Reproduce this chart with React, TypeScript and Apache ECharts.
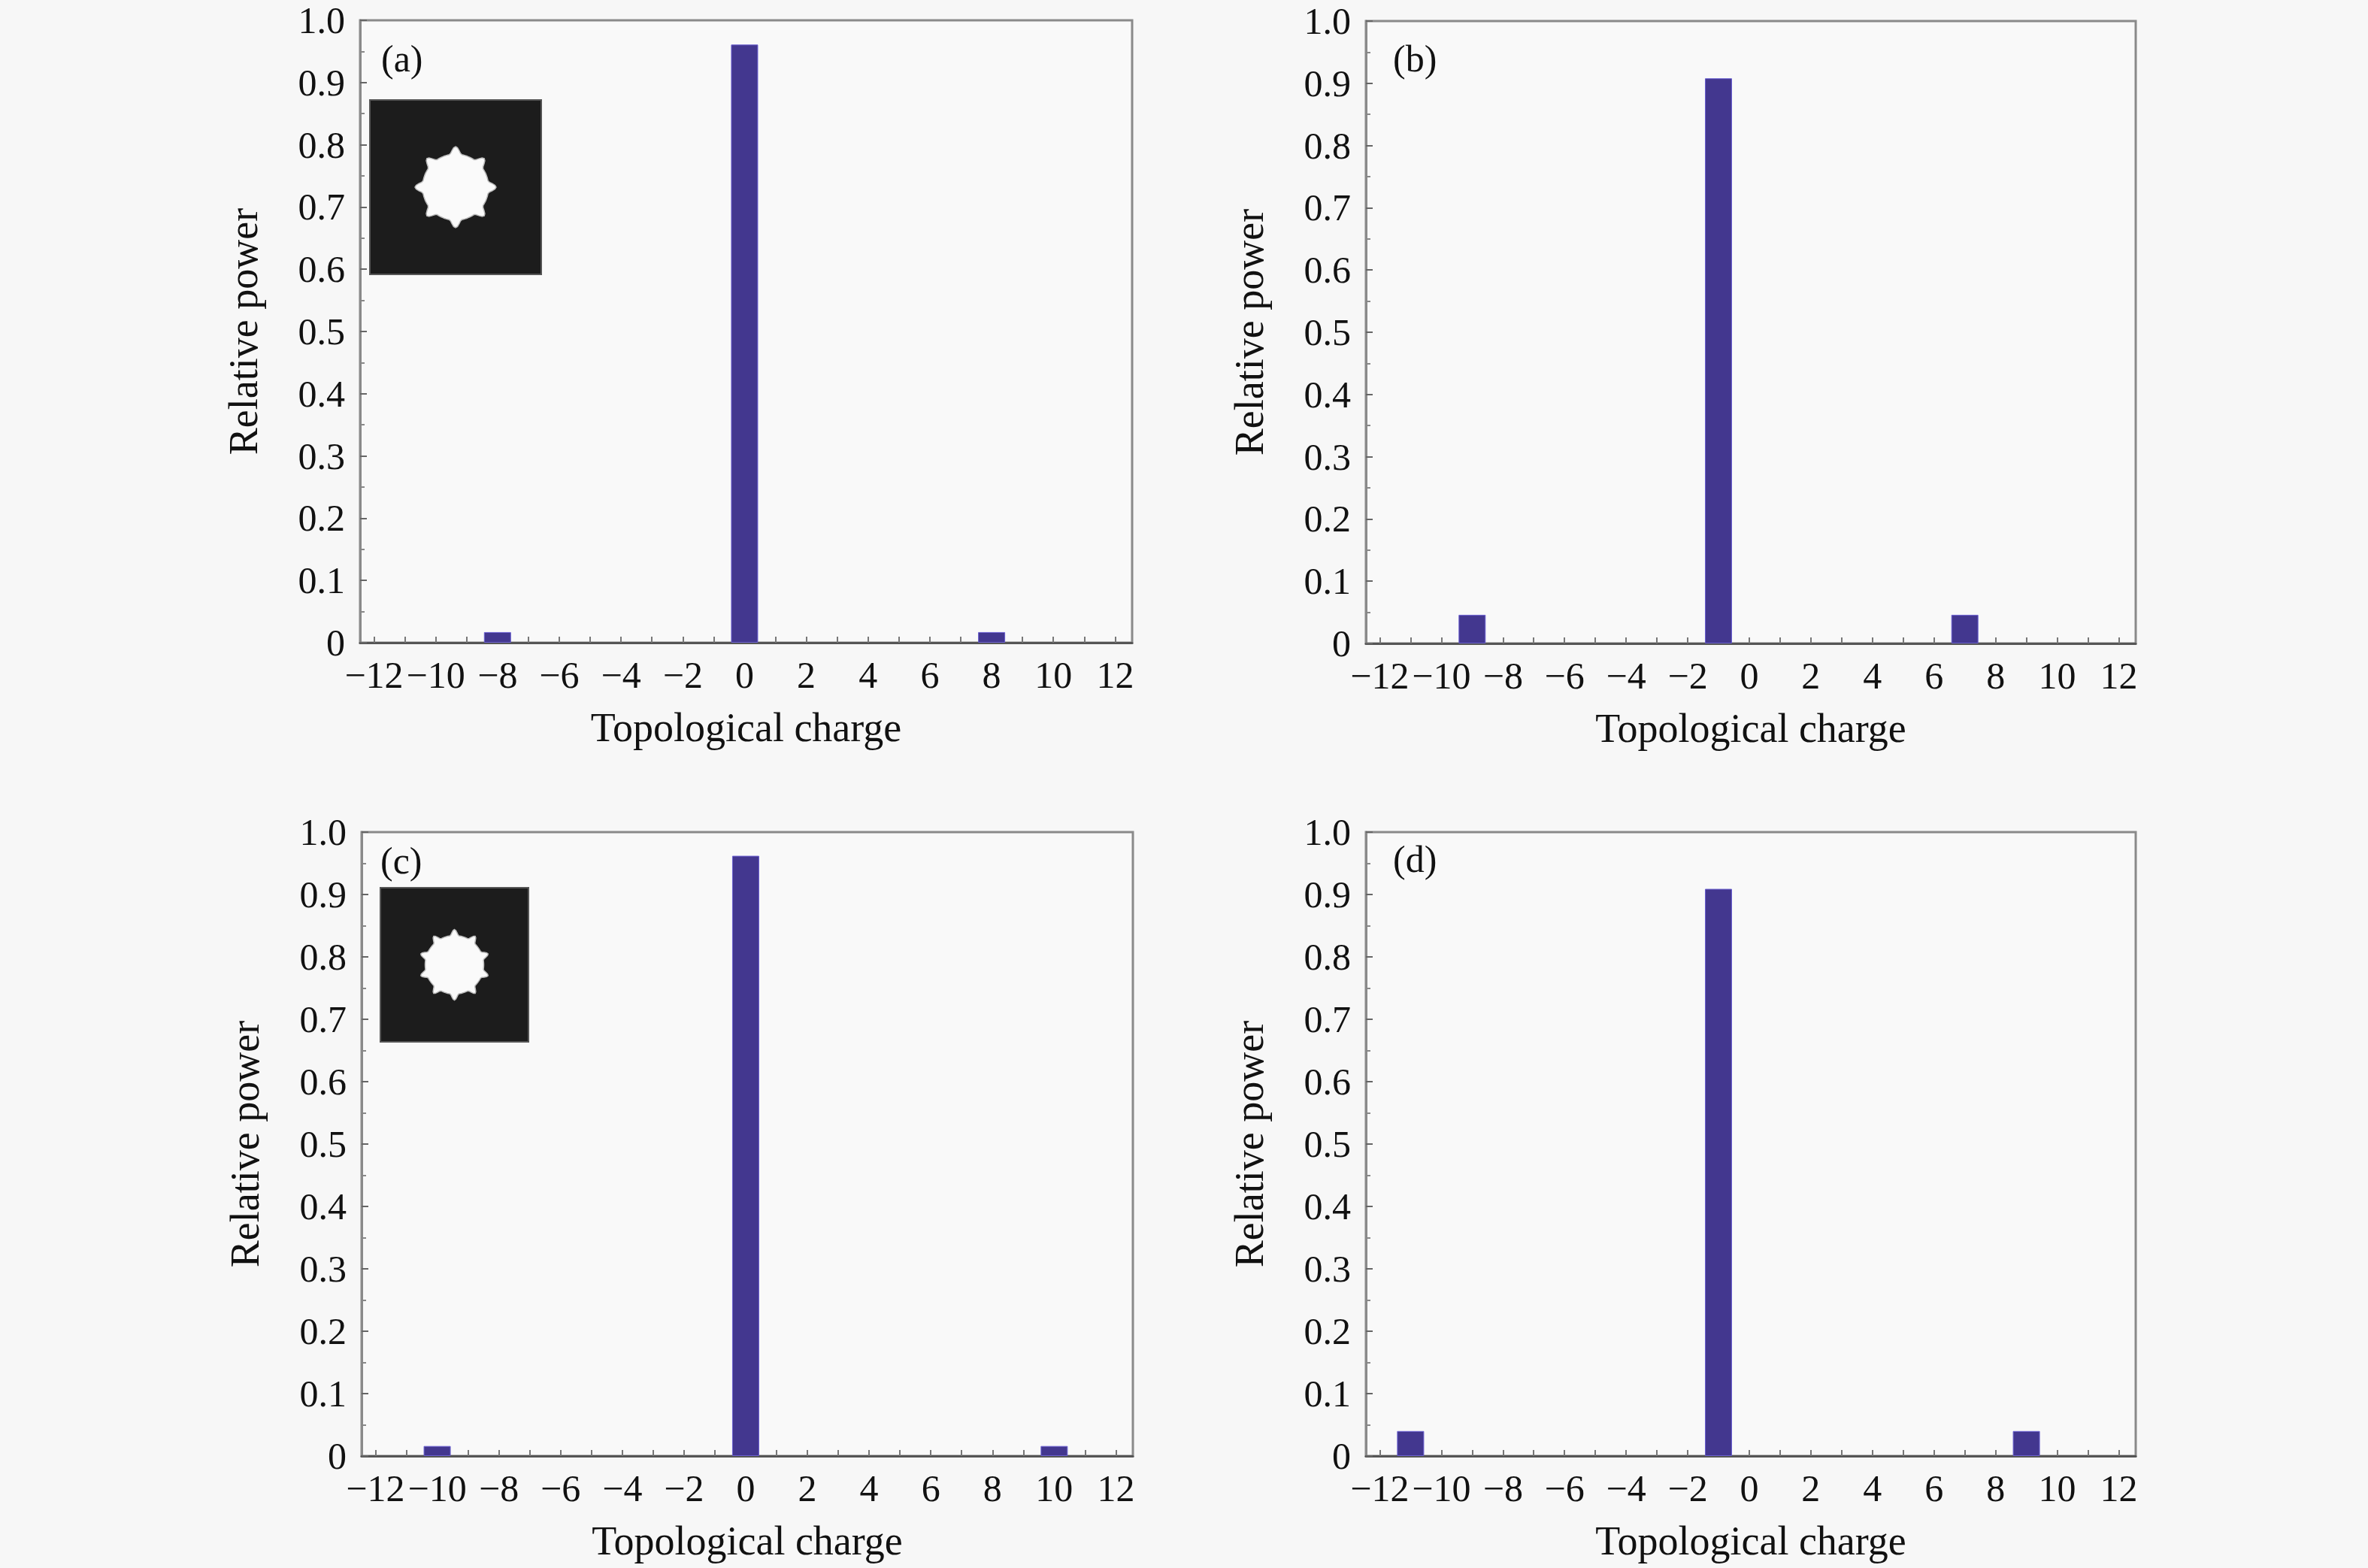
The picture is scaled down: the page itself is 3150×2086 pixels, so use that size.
import { useEffect, useRef } from "react";
import * as echarts from "echarts";

const X_LABELS = [-12, -10, -8, -6, -4, -2, 0, 2, 4, 6, 8, 10, 12];
const X_TICKS = [-12, -11, -10, -9, -8, -7, -6, -5, -4, -3, -2, -1, 0, 1, 2, 3, 4, 5, 6, 7, 8, 9, 10, 11, 12];

// [topological charge, relative power]
const seriesA = [[-8, 0.017], [0, 0.961], [8, 0.017]];
const seriesB = [[-9, 0.046], [-1, 0.908], [7, 0.046]];
const seriesC = [[-10, 0.016], [0, 0.962], [10, 0.016]];
const seriesD = [[-11, 0.04], [-1, 0.909], [9, 0.04]];

const PANEL_LABELS = ["(a)", "(b)", "(c)", "(d)"];

const BAR_COLOR = "#43378f";
const FONT = "Liberation Serif";

const GRIDS = [
  { left: 479, top: 27, width: 1027, height: 828 },
  { left: 1817, top: 28, width: 1024, height: 828 },
  { left: 481, top: 1107, width: 1026, height: 830 },
  { left: 1817, top: 1107, width: 1024, height: 830 },
];

// where the (a)..(d) tags sit: left edge, vertical centre
const LABEL_POS = [
  [507, 78],
  [1853, 78],
  [506, 1145],
  [1853, 1143],
];

function gearPoints(cx: number, cy: number, lobes: number, rIn: number, rOut: number) {
  const pts: number[][] = [];
  const n = lobes * 16;
  for (let i = 0; i < n; i++) {
    const t = (i / n) * Math.PI * 2;
    const c = Math.max(0, Math.cos(lobes * t));
    const r = rIn + (rOut - rIn) * Math.pow(c, 2);
    pts.push([cx + r * Math.sin(t), cy - r * Math.cos(t)]);
  }
  return pts;
}

function inset(x: number, y: number, w: number, h: number, lobes: number, rIn: number, rOut: number) {
  return [
    {
      type: "rect",
      shape: { x, y, width: w, height: h },
      style: { fill: "#1c1c1c", stroke: "#555", lineWidth: 2 },
      z: 100,
    },
    {
      type: "polygon",
      shape: { points: gearPoints(x + w / 2, y + h / 2, lobes, rIn, rOut) },
      style: { fill: "#fafafa", stroke: "#bbb", lineWidth: 1.5 },
      z: 101,
    },
  ];
}

export default function App() {
  const chartRef = useRef<HTMLDivElement>(null);

  useEffect(() => {
    if (!chartRef.current) return;
    document.body.style.margin = "0";
    document.body.style.overflow = "hidden";
    document.body.style.background = "#f7f7f7";

    const chart = echarts.init(chartRef.current, null, { renderer: "svg" });
    const data = [seriesA, seriesB, seriesC, seriesD];

    chart.setOption({
      animation: false,
      backgroundColor: "#f7f7f7",
      textStyle: { fontFamily: FONT },
      grid: GRIDS.map((g) => ({
        ...g,
        show: true,
        borderColor: "#8a8a8a",
        borderWidth: 3,
        backgroundColor: "#f9f9f9",
      })),
      xAxis: GRIDS.map((_, i) => ({
        type: "value",
        gridIndex: i,
        min: -12.45,
        max: 12.55,
        name: "Topological charge",
        nameLocation: "middle",
        nameGap: 86,
        nameTextStyle: { fontFamily: FONT, fontSize: 54, color: "#111" },
        axisLine: { show: true, onZero: false, lineStyle: { color: "#555", width: 3 } },
        axisTick: {
          show: true,
          inside: true,
          length: 8,
          customValues: X_TICKS,
          lineStyle: { color: "#777", width: 2 },
        },
        axisLabel: {
          customValues: X_LABELS,
          formatter: (v: number) => (v < 0 ? "\u2212" + Math.abs(v) : String(v)),
          fontFamily: FONT,
          fontSize: 50,
          color: "#111",
          margin: 18,
        },
        splitLine: { show: false },
      })),
      yAxis: GRIDS.map((_, i) => ({
        type: "value",
        gridIndex: i,
        min: 0,
        max: 1,
        interval: 0.1,
        name: "Relative power",
        nameLocation: "middle",
        nameRotate: 90,
        nameGap: 128,
        nameTextStyle: { fontFamily: FONT, fontSize: 54, color: "#111" },
        axisLine: { show: true, onZero: false, lineStyle: { color: "#8a8a8a", width: 3 } },
        axisTick: { show: true, inside: true, length: 9, lineStyle: { color: "#666", width: 2 } },
        minorTick: { show: true, splitNumber: 2, length: 6, lineStyle: { color: "#888", width: 2 } },
        axisLabel: {
          formatter: (v: number) => (v === 0 ? "0" : v.toFixed(1)),
          fontFamily: FONT,
          fontSize: 50,
          color: "#111",
          margin: 20,
        },
        splitLine: { show: false },
      })),
      series: data.map((d, i) => ({
        type: "bar",
        xAxisIndex: i,
        yAxisIndex: i,
        data: d,
        barWidth: 36,
        itemStyle: { color: BAR_COLOR, borderColor: "#6a5fd0", borderWidth: 1 },
      })),
      graphic: [
        ...LABEL_POS.map(([x, y], i) => ({
          type: "text",
          x,
          y,
          style: {
            text: PANEL_LABELS[i],
            fontFamily: FONT,
            fontSize: 50,
            fill: "#111",
            verticalAlign: "middle",
          },
          z: 102,
        })),
        ...inset(492, 133, 228, 232, 8, 44, 54),
        ...inset(506, 1181, 197, 205, 10, 39, 47),
      ],
    });

    return () => chart.dispose();
  }, []);

  return <div ref={chartRef} style={{ width: 3150, height: 2086 }} />;
}
